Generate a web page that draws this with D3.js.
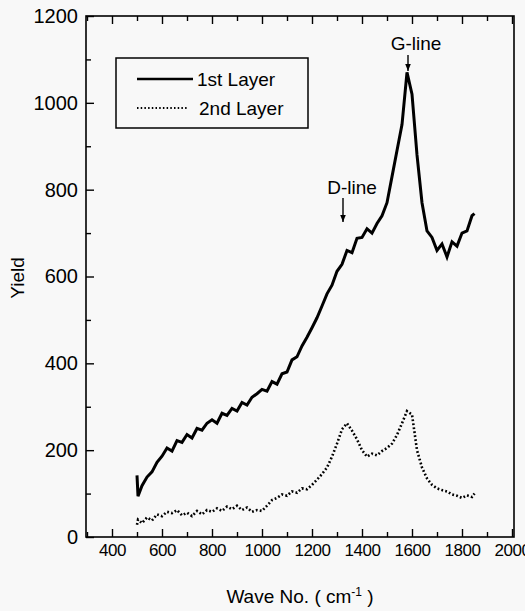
<!DOCTYPE html>
<html>
<head>
<meta charset="utf-8">
<script src="https://cdn.jsdelivr.net/npm/d3@7"></script>
<style>
  body { margin: 0; background: #f8f8f8; }
  text { font-family: "Liberation Sans", Arial, sans-serif; fill: #000; }
</style>
</head>
<body>
<svg id="paper"></svg>
<script>
// wave numbers (cm^-1) shared by both layers
let waveNo = [500, 504, 520, 540, 560, 580, 600, 620, 640, 660, 680, 700, 720, 740, 760, 780,
    800, 820, 840, 860, 880, 900, 920, 940, 960, 980, 1000, 1020, 1040, 1060, 1080, 1100,
    1120, 1140, 1160, 1180, 1200, 1220, 1240, 1260, 1280, 1300, 1320, 1340, 1360, 1380, 1400,
    1420, 1440, 1460, 1480, 1500, 1520, 1540, 1560, 1580, 1600, 1620, 1640, 1660, 1680, 1700,
    1720, 1740, 1760, 1780, 1800, 1820, 1840, 1850];

let layer1 = [142, 94, 118, 138, 150, 172, 186, 205, 198, 222, 218, 236, 228, 250, 246, 262,
    270, 262, 285, 280, 296, 290, 310, 304, 322, 330, 340, 336, 358, 352, 376, 380,
    408, 415, 440, 460, 482, 505, 532, 560, 580, 612, 628, 660, 655, 688, 690,
    710, 700, 722, 740, 770, 830, 890, 950, 1070, 1020, 880, 770, 705, 690, 660,
    675, 645, 680, 670, 700, 705, 740, 745];

let layer2 = [28, 40, 32, 45, 38, 52, 48, 58, 55, 62, 50, 56, 48, 60, 52, 62,
    58, 66, 60, 70, 64, 72, 62, 68, 58, 62, 60, 72, 85, 90, 98, 95,
    105, 102, 112, 110, 120, 132, 145, 160, 185, 215, 248, 262, 245, 225, 200,
    185, 192, 188, 198, 205, 215, 235, 262, 290, 282, 200, 160, 135, 120, 112,
    108, 105, 98, 95, 90, 96, 92, 100];

let xMajor = [400, 600, 800, 1000, 1200, 1400, 1600, 1800, 2000];
let xMinor = [300, 500, 700, 900, 1100, 1300, 1500, 1700, 1900];
let yMajor = [0, 200, 400, 600, 800, 1000, 1200];
let yMinor = [100, 300, 500, 700, 900, 1100];

let seriesNames = ["1st Layer", "2nd Layer"];

// dimensions
var width = 525, height = 611;
var plot = {left: 86, right: 514, top: 16, bottom: 537};

var svg = d3.select("#paper")
    .attr("width", width)
    .attr("height", height);

var x = d3.scaleLinear().domain([296, 2008]).range([plot.left, plot.right]);
var y = d3.scaleLinear().domain([0, 1200]).range([plot.bottom, plot.top]);

// frame
svg.append("rect")
    .attr("x", plot.left).attr("y", plot.top)
    .attr("width", plot.right - plot.left)
    .attr("height", plot.bottom - plot.top)
    .attr("fill", "none")
    .attr("stroke", "#000")
    .attr("stroke-width", 1.6);

function styleAxis(g) {
    g.select(".domain").remove();
    g.selectAll(".tick line").attr("stroke", "#000").attr("stroke-width", 1.4);
}

// left axis
svg.append("g")
    .attr("transform", "translate(" + plot.left + ",0)")
    .call(d3.axisLeft(y).tickValues(yMajor).tickSize(-8).tickPadding(8).tickFormat(d3.format("d")))
    .call(styleAxis)
    .selectAll("text")
    .style("font-size", "20px")
    .attr("font-family", null);
svg.append("g")
    .attr("transform", "translate(" + plot.left + ",0)")
    .call(d3.axisLeft(y).tickValues(yMinor).tickSize(-5).tickFormat(""))
    .call(styleAxis);

// bottom axis
svg.append("g")
    .attr("transform", "translate(0," + plot.bottom + ")")
    .call(d3.axisBottom(x).tickValues(xMajor).tickSize(-8).tickPadding(7).tickFormat(d3.format("d")))
    .call(styleAxis)
    .selectAll("text")
    .style("font-size", "17px")
    .style("letter-spacing", "-0.4px")
    .attr("font-family", null);
svg.append("g")
    .attr("transform", "translate(0," + plot.bottom + ")")
    .call(d3.axisBottom(x).tickValues(xMinor).tickSize(-5).tickFormat(""))
    .call(styleAxis);

// top ticks
svg.append("g")
    .attr("transform", "translate(0," + plot.top + ")")
    .call(d3.axisTop(x).tickValues(xMajor).tickSize(-8).tickFormat(""))
    .call(styleAxis);
svg.append("g")
    .attr("transform", "translate(0," + plot.top + ")")
    .call(d3.axisTop(x).tickValues(xMinor).tickSize(-5).tickFormat(""))
    .call(styleAxis);

// lines
var line1 = d3.line()
    .x((d, i) => x(waveNo[i]))
    .y(d => y(d));

svg.append("path")
    .datum(layer1)
    .attr("d", line1)
    .attr("fill", "none")
    .attr("stroke", "#000")
    .attr("stroke-width", 3)
    .attr("stroke-linejoin", "miter");

svg.append("path")
    .datum(layer2)
    .attr("d", line1)
    .attr("fill", "none")
    .attr("stroke", "#000")
    .attr("stroke-width", 2.6)
    .attr("stroke-dasharray", "1.8,2.2");

// legend
var legend = svg.append("g");
legend.append("rect")
    .attr("x", 116).attr("y", 58)
    .attr("width", 192).attr("height", 70)
    .attr("fill", "none")
    .attr("stroke", "#000")
    .attr("stroke-width", 1.5);
legend.append("line")
    .attr("x1", 137).attr("x2", 193).attr("y1", 79).attr("y2", 79)
    .attr("stroke", "#000").attr("stroke-width", 2.6);
legend.append("line")
    .attr("x1", 137).attr("x2", 188).attr("y1", 108).attr("y2", 108)
    .attr("stroke", "#000").attr("stroke-width", 2)
    .attr("stroke-dasharray", "1.5,2.2");
legend.selectAll("text.leg")
    .data(seriesNames)
    .enter().append("text")
    .attr("class", "leg")
    .attr("x", (d, i) => i === 0 ? 197 : 199)
    .attr("y", (d, i) => i === 0 ? 86 : 115)
    .style("font-size", "19px")
    .text(d => d);

// annotations
svg.append("text")
    .attr("x", 416).attr("y", 50)
    .style("text-anchor", "middle")
    .style("font-size", "19px")
    .text("G-line");
svg.append("text")
    .attr("x", 352).attr("y", 194)
    .style("text-anchor", "middle")
    .style("font-size", "19px")
    .text("D-line");

svg.append("defs").append("marker")
    .attr("id", "arrow")
    .attr("viewBox", "0 0 10 10")
    .attr("refX", 10).attr("refY", 5)
    .attr("markerWidth", 5).attr("markerHeight", 7)
    .attr("orient", "auto")
    .append("path")
    .attr("d", "M0,1L10,5L0,9Z")
    .attr("fill", "#000");

svg.append("line")
    .attr("x1", 408).attr("x2", 408).attr("y1", 55).attr("y2", 71)
    .attr("stroke", "#000").attr("stroke-width", 1.4)
    .attr("marker-end", "url(#arrow)");
svg.append("line")
    .attr("x1", 343).attr("x2", 343).attr("y1", 198).attr("y2", 222)
    .attr("stroke", "#000").attr("stroke-width", 1.4)
    .attr("marker-end", "url(#arrow)");

// axis titles
svg.append("text")
    .attr("transform", "translate(24,278) rotate(-90)")
    .style("text-anchor", "middle")
    .style("font-size", "19px")
    .text("Yield");

var xt = svg.append("text")
    .attr("x", 300).attr("y", 603)
    .style("text-anchor", "middle")
    .style("font-size", "19px");
xt.append("tspan").text("Wave No. ( cm");
xt.append("tspan").attr("dy", -7).style("font-size", "12px").text("-1");
xt.append("tspan").attr("dy", 7).text(" )");
</script>
</body>
</html>
